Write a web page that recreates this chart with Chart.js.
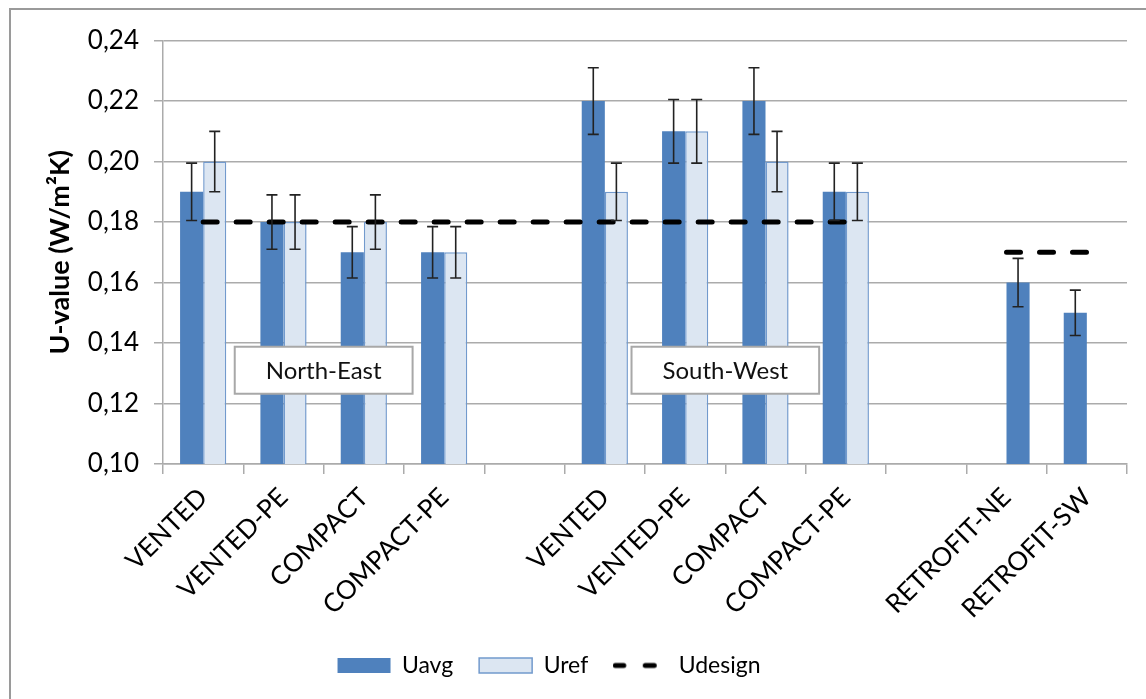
<!DOCTYPE html>
<html>
<head>
<meta charset="utf-8">
<script src="https://cdn.jsdelivr.net/npm/chart.js@4/dist/chart.umd.min.js"></script>
<style>
  html, body { margin: 0; padding: 0; background: #fff; overflow: hidden; }
  #frame { position: absolute; left: 9px; top: 8px; width: 1300px; height: 800px;
           border-left: 2px solid #9a9a9a; border-top: 2px solid #9a9a9a; }
  #wrap { position: absolute; left: 11px; top: 10px; width: 1135px; height: 677px; }
</style>
</head>
<body>
<div id="frame"></div>
<div id="wrap"><canvas id="chart"></canvas></div>
<script>
// Floor constructions, North-East and South-West blocks, then the two retrofits
const categories = ['VENTED', 'VENTED-PE', 'COMPACT', 'COMPACT-PE', '',
                    'VENTED', 'VENTED-PE', 'COMPACT', 'COMPACT-PE', '',
                    'RETROFIT-NE', 'RETROFIT-SW'];

// Average measured U-value (left bar of each pair)
const uavg    = [0.19, 0.18, 0.17, 0.17, null, 0.22, 0.21, 0.22, 0.19, null, null, 0.15];
const uavgErr = [0.0095, 0.009, 0.0085, 0.0085, null, 0.011, 0.0105, 0.011, 0.0095, null, null, 0.0075];

// Reference U-value (right bar of each pair)
const uref    = [0.20, 0.18, 0.18, 0.17, null, 0.19, 0.21, 0.20, 0.19, null, null, null];
const urefErr = [0.01, 0.009, 0.009, 0.0085, null, 0.0095, 0.0105, 0.01, 0.0095, null, null, null];

// RETROFIT-NE average, which sits in the right-hand slot of its pair
const uavgRight    = [null, null, null, null, null, null, null, null, null, null, 0.16, null];
const uavgRightErr = [null, null, null, null, null, null, null, null, null, null, 0.008, null];

// Design U-value
const udesign = [0.18, 0.18, 0.18, 0.18, 0.18, 0.18, 0.18, 0.18, 0.18, null, 0.17, 0.17];

// Region captions and the level they are placed at
const regionLabels = ['North-East', 'South-West'];
const regionLevel = 0.131;

const FONT = 'Lato, "Open Sans", "DejaVu Sans", sans-serif';
const AVG_BLUE = '#4F81BD';
const REF_FILL = '#DCE6F2';
const REF_EDGE = '#729ACD';
const GRID = '#ababab';

// Legend swatch for the design line: two short rounded dashes
function dashSwatch() {
  const c = document.createElement('canvas');
  c.width = 56; c.height = 10;
  const g = c.getContext('2d');
  g.strokeStyle = '#000';
  g.lineWidth = 5;
  g.lineCap = 'round';
  g.beginPath();
  g.moveTo(2.5, 5); g.lineTo(11, 5);
  g.moveTo(32.5, 5); g.lineTo(41.5, 5);
  g.stroke();
  return c;
}
const designSwatch = dashSwatch();

// Symmetric error bars drawn on top of every bar that carries `errors`
const errorBars = {
  id: 'errorBars',
  afterDatasetsDraw(chart) {
    const { ctx, scales: { y } } = chart;
    ctx.save();
    ctx.strokeStyle = '#222';
    ctx.lineWidth = 1.6;
    chart.data.datasets.forEach((ds, di) => {
      if (!ds.errors) return;
      const meta = chart.getDatasetMeta(di);
      meta.data.forEach((bar, i) => {
        const v = ds.data[i], e = ds.errors[i];
        if (v == null || e == null) return;
        const x = bar.x;
        const top = y.getPixelForValue(v + e);
        const bot = y.getPixelForValue(v - e);
        ctx.beginPath();
        ctx.moveTo(x, top); ctx.lineTo(x, bot);
        ctx.moveTo(x - 5.5, top); ctx.lineTo(x + 5.5, top);
        ctx.moveTo(x - 5.5, bot); ctx.lineTo(x + 5.5, bot);
        ctx.stroke();
      });
    });
    ctx.restore();
  }
};

// Framed captions centred between the 2nd/3rd category of each region
const regionBoxes = {
  id: 'regionBoxes',
  afterDatasetsDraw(chart, args, opts) {
    const { ctx, scales: { x, y } } = chart;
    ctx.save();
    ctx.font = '24px ' + FONT;
    ctx.textAlign = 'center';
    ctx.textBaseline = 'middle';
    opts.anchors.forEach((idx, k) => {
      const text = regionLabels[k];
      const cx = (x.getPixelForValue(idx) + x.getPixelForValue(idx + 1)) / 2;
      const cy = y.getPixelForValue(regionLevel);
      const w = ctx.measureText(text).width + 62;
      const h = 47;
      ctx.fillStyle = '#fff';
      ctx.fillRect(cx - w / 2, cy - h / 2, w, h);
      ctx.strokeStyle = '#a8a8a8';
      ctx.lineWidth = 2;
      ctx.strokeRect(cx - w / 2, cy - h / 2, w, h);
      ctx.fillStyle = '#111';
      ctx.fillText(text, cx, cy + 1);
    });
    ctx.restore();
  }
};

// Centre the legend under the whole frame rather than the canvas
const legendShift = {
  id: 'legendShift',
  afterLayout(chart, args, opts) {
    if (chart.legend) chart.legend.right -= opts.trimRight;
  }
};

new Chart(document.getElementById('chart'), {
  type: 'bar',
  data: {
    labels: categories,
    datasets: [
      { label: 'Uavg', data: uavg, errors: uavgErr, stack: 'left',
        backgroundColor: AVG_BLUE, borderWidth: 0, order: 1 },
      { label: 'Uref', data: uref, errors: urefErr, stack: 'right',
        backgroundColor: REF_FILL, borderColor: REF_EDGE, borderWidth: 1.5, order: 1 },
      { label: 'Uavg', data: uavgRight, errors: uavgRightErr, stack: 'right', hideInLegend: true,
        backgroundColor: AVG_BLUE, borderWidth: 0, order: 1 },
      { type: 'line', label: 'Udesign', data: udesign, order: 0,
        borderColor: '#000', borderWidth: 5, borderDash: [14, 19], borderCapStyle: 'round',
        pointRadius: 0, pointHoverRadius: 0, fill: false, spanGaps: false, tension: 0 }
    ]
  },
  options: {
    responsive: true,
    maintainAspectRatio: false,
    animation: false,
    layout: { padding: { top: 28, left: 0, right: 19, bottom: 0 } },
    datasets: { bar: { categoryPercentage: 0.575, barPercentage: 1.0 } },
    scales: {
      x: {
        grid: { drawOnChartArea: false, drawTicks: true, tickLength: 10, color: GRID, lineWidth: 1.5 },
        border: { color: GRID, width: 1.5 },
        ticks: { color: '#000', font: { family: FONT, size: 26 }, minRotation: 45, maxRotation: 45,
                 autoSkip: false, padding: 8 },
        afterFit(s) { s.height = 164; }
      },
      y: {
        stacked: false,
        min: 0.10, max: 0.24,
        grid: { color: GRID, lineWidth: 1.5, tickLength: 9 },
        border: { color: GRID, width: 1.5 },
        ticks: { stepSize: 0.02, color: '#000', padding: 15, font: { family: FONT, size: 26 },
                 callback: v => v.toFixed(2).replace('.', ',') },
        title: { display: true, text: 'U-value (W/m²K)', color: '#000',
                 font: { family: FONT, size: 27, weight: 'bold' }, padding: { top: 33, bottom: 0 } },
        afterFit(s) { s.width = 152; }
      }
    },
    plugins: {
      legend: {
        position: 'bottom',
        labels: {
          usePointStyle: true,
          pointStyleWidth: 53,
          boxHeight: 15,
          padding: 26,
          color: '#000',
          font: { family: FONT, size: 23 },
          generateLabels(chart) {
            return chart.data.datasets
              .map((ds, i) => ({ ds, i }))
              .filter(o => !o.ds.hideInLegend)
              .map(({ ds, i }) => {
                const isLine = ds.type === 'line';
                return {
                  text: ds.label,
                  datasetIndex: i,
                  fillStyle: isLine ? 'rgba(0,0,0,0)' : ds.backgroundColor,
                  strokeStyle: isLine ? ds.borderColor : (ds.borderColor || ds.backgroundColor),
                  lineWidth: isLine ? 0 : ds.borderWidth,
                  pointStyle: isLine ? designSwatch : 'rect',
                  fontColor: '#000',
                  hidden: false
                };
              });
          }
        }
      },
      tooltip: { enabled: false },
      regionBoxes: { anchors: [1, 6] },
      legendShift: { trimRight: 40 }
    }
  },
  plugins: [regionBoxes, errorBars, legendShift]
});
</script>
</body>
</html>
